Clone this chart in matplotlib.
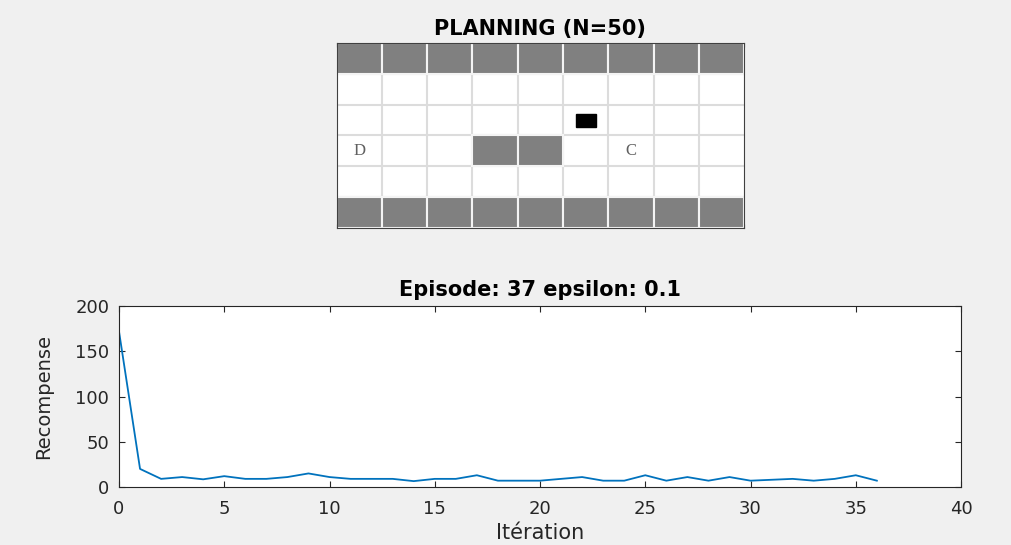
import numpy as np
import matplotlib.pyplot as plt
from matplotlib.patches import Rectangle

# Grille du planning : 0 = libre, 1 = mur / obstacle
grille = [
    [1, 1, 1, 1, 1, 1, 1, 1, 1],
    [0, 0, 0, 0, 0, 0, 0, 0, 0],
    [0, 0, 0, 0, 0, 0, 0, 0, 0],
    [0, 0, 0, 1, 1, 0, 0, 0, 0],
    [0, 0, 0, 0, 0, 0, 0, 0, 0],
    [1, 1, 1, 1, 1, 1, 1, 1, 1],
]
agent = (2, 5)        # (ligne, colonne)
depart = (3, 0)       # D
cible = (3, 6)        # C

# Recompense par episode
iterations = list(range(37))
recompense = [172, 20, 9, 11, 8.5, 12, 9, 9, 11, 15, 11, 9, 9, 9, 6.5, 9, 9, 13, 7,
              7, 7, 9, 11, 7, 7, 13, 7, 11, 7, 11, 7, 8, 9, 7, 9, 13, 7]

plt.rcParams['font.family'] = ['DejaVu Sans']
fig = plt.figure(figsize=(10.11, 5.45), dpi=100, facecolor='#f0f0f0')

# --- Planning ---
ax1 = fig.add_axes([0.333, 0.582, 0.403, 0.339])
nl, nc = len(grille), len(grille[0])
ax1.set_xlim(0, nc)
ax1.set_ylim(nl, 0)
for i in range(1, nc):
    ax1.axvline(i, color='#dcdcdc', lw=1.5, zorder=1)
for j in range(1, nl):
    ax1.axhline(j, color='#dcdcdc', lw=1.5, zorder=1)
for l in range(nl):
    for c in range(nc):
        if grille[l][c]:
            ax1.add_patch(Rectangle((c, l), 1, 1, facecolor='#808080',
                                    edgecolor='#f4f4f4', lw=1.5, zorder=2))
ax1.add_patch(Rectangle((agent[1] + 0.28, agent[0] + 0.3), 0.44, 0.44, color='black', zorder=3))
ax1.text(depart[1] + 0.5, depart[0] + 0.5, 'D', ha='center', va='center',
         family='Liberation Serif', fontsize=12, color='#606060')
ax1.text(cible[1] + 0.5, cible[0] + 0.5, 'C', ha='center', va='center',
         family='Liberation Serif', fontsize=12, color='#606060')
ax1.set_xticks(range(nc + 1))
ax1.set_yticks([])
ax1.set_xticklabels([])
ax1.tick_params(axis='x', direction='in', top=True, length=3, color='black')
for s in ax1.spines.values():
    s.set_color('#404040')
ax1.set_title('PLANNING (N=50)', fontsize=15, fontweight='bold', pad=6)

# --- Recompense ---
ax2 = fig.add_axes([0.1177, 0.1064, 0.8329, 0.3321])
ax2.plot(iterations, recompense, color='#0072BD', lw=1.3)
ax2.set_xlim(0, 40)
ax2.set_ylim(0, 200)
ax2.set_xticks(range(0, 41, 5))
ax2.set_yticks(range(0, 201, 50))
ax2.tick_params(direction='in', top=True, right=True, length=4, labelsize=13,
                labelcolor='#262626', color='#262626')
ax2.tick_params(axis='x', pad=9)
ax2.tick_params(axis='y', pad=7)
for s in ax2.spines.values():
    s.set_color('#262626')
ax2.set_xlabel('Itération', fontsize=15, color='#262626', labelpad=4)
ax2.set_ylabel('Recompense', fontsize=14, color='#262626', labelpad=16)
ax2.set_title('Episode: 37 epsilon: 0.1', fontsize=15, fontweight='bold', pad=7)

fig.savefig('out.png', dpi=100, facecolor=fig.get_facecolor())
